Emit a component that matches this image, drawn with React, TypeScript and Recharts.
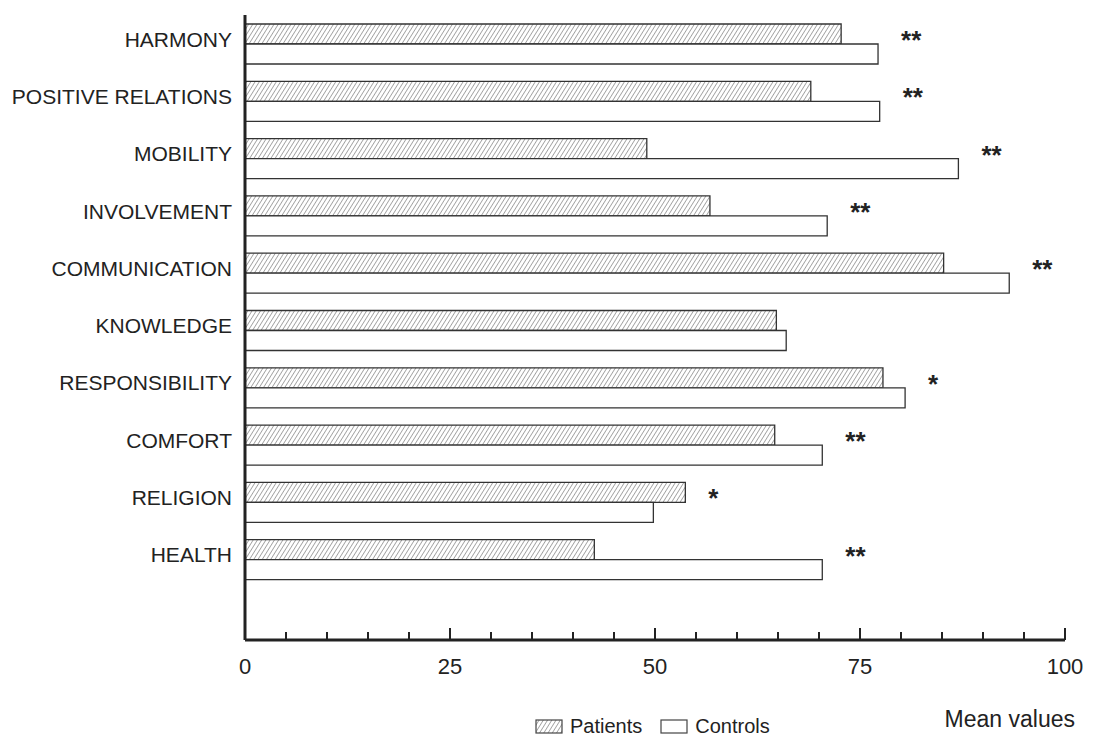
import { BarChart, Bar, XAxis, YAxis, Legend, LabelList } from "recharts"

const categories = [
  "HARMONY",
  "POSITIVE RELATIONS",
  "MOBILITY",
  "INVOLVEMENT",
  "COMMUNICATION",
  "KNOWLEDGE",
  "RESPONSIBILITY",
  "COMFORT",
  "RELIGION",
  "HEALTH",
]
const patients = [72.7, 69, 49, 56.7, 85.2, 64.8, 77.8, 64.6, 53.7, 42.6]
const controls = [77.2, 77.4, 87, 71, 93.2, 66, 80.5, 70.4, 49.8, 70.4]
const significance = ["**", "**", "**", "**", "**", "", "*", "**", "*", "**"]
const xTicks = [0, 5, 10, 15, 20, 25, 30, 35, 40, 45, 50, 55, 60, 65, 70, 75, 80, 85, 90, 95, 100]

const data = categories.map((name, i) => ({
  name,
  patients: patients[i],
  controls: controls[i],
  sig: significance[i],
}))

const FONT = "'Liberation Sans', Arial, Helvetica, sans-serif"
const INK = "#222"

function XTick(props: any) {
  const { x, y, payload } = props
  const v = payload.value
  const major = v % 25 === 0
  return (
    <g>
      {v !== 0 && (
        <line x1={x} x2={x} y1={y} y2={y - (major ? 12 : 8)} stroke={INK} strokeWidth={2} />
      )}
      {major && (
        <text x={x} y={y + 34} textAnchor="middle" fontSize={22} fontFamily={FONT} fill={INK}>
          {v}
        </text>
      )}
    </g>
  )
}

function YTick(props: any) {
  const { x, y, payload } = props
  return (
    <text x={x} y={y + 3} textAnchor="end" fontSize={21} fontFamily={FONT} fill={INK}>
      {payload.value}
    </text>
  )
}

function Stars(props: any) {
  const { x, y, width, height, value, index } = props
  const row = data[index]
  if (!row || !row.sig) return null
  const perUnit = width / value
  const longest = Math.max(row.patients, row.controls)
  return (
    <text
      x={x + longest * perUnit + 23}
      y={y + height + 5}
      fontSize={26}
      fontWeight="bold"
      fontFamily={FONT}
      fill={INK}
    >
      {row.sig}
    </text>
  )
}

function LegendContent() {
  return (
    <div style={{ display: "flex", alignItems: "center", fontFamily: FONT, fontSize: 20, color: INK }}>
      <svg width={28} height={16} style={{ marginRight: 7 }}>
        <rect x={1} y={1} width={26} height={13} fill="url(#hatch)" stroke="#444" strokeWidth={1.2} />
      </svg>
      <span style={{ marginRight: 18 }}>Patients</span>
      <svg width={28} height={16} style={{ marginRight: 7 }}>
        <rect x={1} y={1} width={26} height={13} fill="#fff" stroke="#444" strokeWidth={1.2} />
      </svg>
      <span>Controls</span>
    </div>
  )
}

export default function App() {
  return (
    <div style={{ position: "absolute", left: 0, top: 0, background: "#fff" }}>
      <BarChart
        width={1094}
        height={739}
        data={data}
        layout="vertical"
        margin={{ top: 15, right: 29, left: 0, bottom: 22 }}
        barSize={20}
        barGap={0}
      >
        <defs>
          <pattern id="hatch" patternUnits="userSpaceOnUse" width={3.6} height={3.6} patternTransform="rotate(32)">
            <rect width={3.6} height={3.6} fill="#fff" />
            <line x1={0} y1={0} x2={0} y2={3.6} stroke="#666" strokeWidth={1.1} />
          </pattern>
        </defs>
        <XAxis
          type="number"
          domain={[0, 100]}
          ticks={xTicks}
          interval={0}
          tick={<XTick />}
          tickLine={false}
          tickSize={0}
          tickMargin={0}
          height={77}
          axisLine={{ stroke: INK, strokeWidth: 3 }}
          label={{
            value: "Mean values",
            position: "insideBottomRight",
            offset: -10,
            fontSize: 23,
            fontFamily: FONT,
            fill: INK,
          }}
        />
        <YAxis
          type="category"
          dataKey="name"
          width={245}
          tickLine={false}
          tickSize={0}
          tickMargin={13}
          tick={<YTick />}
          padding={{ top: 0, bottom: 52 }}
          axisLine={{ stroke: INK, strokeWidth: 3 }}
        />
        <Legend
          verticalAlign="middle"
          align="center"
          content={<LegendContent />}
          wrapperStyle={{ position: "absolute", left: 535, top: 715, width: "auto" }}
        />
        <Bar dataKey="patients" name="Patients" fill="url(#hatch)" stroke="#333" strokeWidth={1.3} isAnimationActive={false}>
          <LabelList dataKey="patients" content={<Stars />} />
        </Bar>
        <Bar dataKey="controls" name="Controls" fill="#fff" stroke="#333" strokeWidth={1.3} isAnimationActive={false} />
      </BarChart>
    </div>
  )
}
